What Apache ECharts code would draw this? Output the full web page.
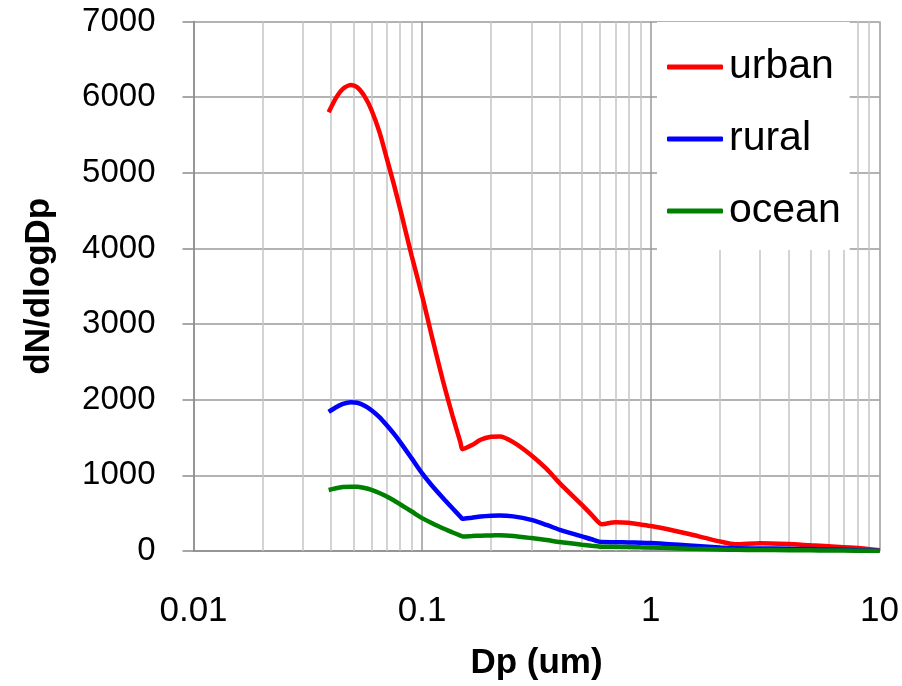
<!DOCTYPE html>
<html>
<head>
<meta charset="utf-8">
<script src="https://cdn.jsdelivr.net/npm/echarts@6/dist/echarts.min.js"></script>
<style>
html,body{margin:0;padding:0;background:#fff;}
#chart{width:902px;height:686px;}
</style>
</head>
<body>
<div id="chart"></div>
<script>
const dp = [0.039, 0.042, 0.045, 0.0487, 0.052, 0.056, 0.06, 0.065, 0.07, 0.075, 0.08, 0.09, 0.1, 0.11, 0.123, 0.136, 0.147, 0.15, 0.165, 0.18, 0.2, 0.218, 0.25, 0.3, 0.35, 0.4, 0.5, 0.55, 0.61, 0.7, 0.8, 0.9, 1.0, 1.2, 1.47, 2.0, 2.34, 3, 4, 5, 6, 8, 10];
const urban = [5800, 5990, 6110, 6160, 6130, 6010, 5830, 5540, 5190, 4860, 4530, 3900, 3370, 2850, 2260, 1780, 1436, 1346, 1400, 1470, 1510, 1515, 1440, 1267, 1085, 895, 609, 480, 355, 380, 373, 350, 330, 285, 224, 127, 88, 104, 92, 75, 62, 40, 10];
const rural = [1838, 1900, 1945, 1968, 1960, 1920, 1860, 1770, 1662, 1555, 1443, 1224, 1026, 870, 705, 562, 453, 425, 440, 455, 466, 470, 458, 412, 345, 280, 193, 155, 118, 116, 113, 110, 105, 90, 72, 45, 36, 34, 30, 25, 20, 10, 3];
const ocean = [807, 830, 845, 851, 848, 832, 807, 767, 720, 670, 618, 522, 434, 370, 300, 245, 204, 193, 198, 203, 206, 207, 198, 171, 145, 118, 83, 70, 57, 55, 52, 48, 45, 38, 30, 20, 15, 13, 11, 9, 7, 4, 1];
const seriesNames = ['urban', 'rural', 'ocean'];
const seriesColors = ['#ff0000', '#0000ff', '#008000'];
const minorGridX = [0.02,0.03,0.04,0.05,0.06,0.07,0.08,0.09,0.2,0.3,0.4,0.5,0.6,0.7,0.8,0.9,2,3,4,5,6,7,8,9];
const xTitle = 'Dp (um)';
const yTitle = 'dN/dlogDp';

const FONT = "'Liberation Sans', Arial, sans-serif";
const chart = echarts.init(document.getElementById('chart'), null, {renderer: 'canvas'});
const values = [urban, rural, ocean];

const series = [{
  type: 'line',
  name: '_grid',
  data: [],
  silent: true,
  z: 1,
  markLine: {
    silent: true,
    symbol: ['none', 'none'],
    label: {show: false},
    z: 1,
    animation: false,
    lineStyle: {color: '#c4c4c4', width: 1.5, type: 'solid'},
    data: minorGridX.map(v => ({xAxis: v}))
  }
}];
seriesNames.forEach((n, i) => {
  series.push({
    type: 'line',
    name: n,
    data: dp.map((x, j) => [x, values[i][j]]),
    showSymbol: false,
    smooth: 0.25,
    z: 3,
    lineStyle: {color: seriesColors[i], width: 4.5},
    itemStyle: {color: seriesColors[i]}
  });
});

chart.setOption({
  animation: false,
  backgroundColor: '#fff',
  grid: {left: 193.5, right: 22, top: 21.5, bottom: 133, containLabel: false},
  legend: {
    data: seriesNames,
    orient: 'vertical',
    left: 657,
    top: 22,
    padding: [21, 9, 15, 10],
    backgroundColor: '#fff',
    icon: 'roundRect',
    itemWidth: 56,
    itemHeight: 5,
    itemGap: 24,
    textStyle: {fontFamily: FONT, fontSize: 41, color: '#000', lineHeight: 48, padding: [0,0,0,1]}
  },
  xAxis: {
    type: 'log',
    logBase: 10,
    min: 0.01,
    max: 10,
    name: xTitle,
    nameLocation: 'middle',
    nameGap: 95,
    nameTextStyle: {fontFamily: FONT, fontSize: 35, fontWeight: 'bold', color: '#000'},
    axisLine: {show: true, lineStyle: {color: '#8c8c8c', width: 1.5}},
    axisTick: {show: false},
    axisLabel: {fontFamily: FONT, fontSize: 35, color: '#000', margin: 43},
    splitLine: {show: true, lineStyle: {color: '#9a9a9a', width: 1.5}},
    minorTick: {show: false},
    minorSplitLine: {show: false}
  },
  yAxis: {
    type: 'value',
    min: 0,
    max: 7000,
    interval: 1000,
    name: yTitle,
    nameLocation: 'middle',
    nameGap: 137,
    nameTextStyle: {fontFamily: FONT, fontSize: 35, fontWeight: 'bold', color: '#000'},
    axisLine: {show: true, lineStyle: {color: '#8c8c8c', width: 1.5}},
    axisTick: {show: true, inside: false, length: 11, lineStyle: {color: '#8c8c8c', width: 1.5}},
    axisLabel: {fontFamily: FONT, fontSize: 33, color: '#000', margin: 38, formatter: v => String(v)},
    splitLine: {show: true, lineStyle: {color: '#9a9a9a', width: 1.5}}
  },
  series: series
});
</script>
</body>
</html>
